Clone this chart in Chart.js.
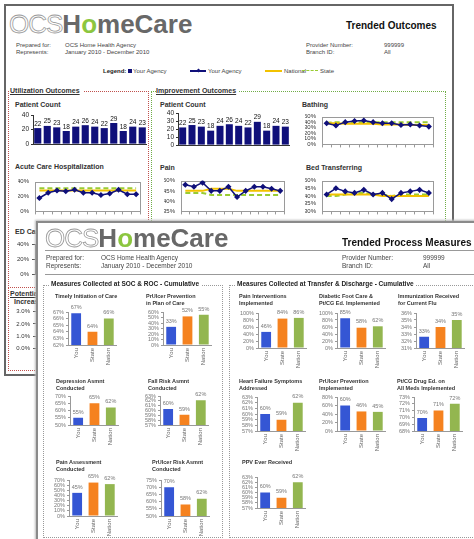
<!DOCTYPE html>
<html lang="en">
<head>
<meta charset="UTF-8">
<title>OCS HomeCare - Trended Outcomes</title>
<script src="https://cdn.jsdelivr.net/npm/chart.js"></script>
<style>
  body { margin: 0; width: 474px; height: 539px; overflow: hidden; position: relative; background: #fff;
         font-family: "Liberation Sans", Arial, sans-serif; color: #333; }
  .t { position: absolute; white-space: nowrap; line-height: 1; }
  .back { z-index: 2; }
  .front { z-index: 12; }
  .b { font-weight: bold; }
  .u { text-decoration: underline; background: #fff; padding-right: 3px; }
  .small { font-size: 6px; color: #444; }
  .logo { font-size: 26px; }
  .ocs { color: #fff; -webkit-text-stroke: 0.8px #9a9a9a; letter-spacing: -1px; }
  .hc { font-weight: bold; color: #686868; }
  .green { color: #8cc63f; }
  .box { position: absolute; }
  .ctitle { font-size: 5.5px; font-weight: bold; line-height: 7px; color: #333; }
  .sect { font-size: 6.5px; font-weight: bold; background: #fff; padding: 0 2px; color: #222; }
</style>
</head>
<body>

<!-- back page: Trended Outcomes -->
<div class="box back" style="left:4px;top:4px;width:446px;height:368px;border:2px solid #666;"></div>
<div class="t back logo" style="left:9px;top:11px"><span class="ocs">OCS</span><span class="hc">H<span class="green">o</span>meCare</span></div>
<div class="t back b" style="left:346px;top:20.5px;font-size:10px;color:#111">Trended Outcomes</div>
<div class="t back small" style="left:16px;top:41.7px">Prepared for:</div>
<div class="t back small" style="left:65px;top:41.7px">OCS Home Health Agency</div>
<div class="t back small" style="left:16px;top:48.7px">Represents:</div>
<div class="t back small" style="left:65px;top:48.7px">January 2010 - December 2010</div>
<div class="t back small" style="left:306px;top:41.7px">Provider Number:</div>
<div class="t back small" style="left:384px;top:41.7px">999999</div>
<div class="t back small" style="left:306px;top:48.7px">Branch ID:</div>
<div class="t back small" style="left:384px;top:48.7px">All</div>

<div class="t back small b" style="left:103px;top:67.7px;color:#222">Legend:</div>
<div class="box back" style="left:128px;top:69px;width:4px;height:4px;background:#10107a"></div>
<div class="t back small" style="left:133px;top:67.7px">Your Agency</div>
<div class="box back" style="left:190px;top:70.3px;width:16px;height:1.5px;background:#10107a"></div>
<div class="box back" style="left:196.5px;top:69.2px;width:3px;height:3px;background:#10107a;transform:rotate(45deg)"></div>
<div class="t back small" style="left:208px;top:67.7px">Your Agency</div>
<div class="box back" style="left:265px;top:70.3px;width:17px;height:1.5px;background:#f2c200"></div>
<div class="t back small" style="left:284px;top:67.7px">National</div>
<div class="box back" style="left:302px;top:70.3px;width:16px;border-top:1.5px dashed #99cc33"></div>
<div class="t back small" style="left:320px;top:67.7px">State</div>

<div class="box back" style="left:8px;top:91px;width:139px;height:195px;border:1px dotted #c0504d"></div>
<div class="box back" style="left:8px;top:287px;width:139px;height:82px;border:1px dotted #c0504d"></div>
<div class="box back" style="left:151px;top:91px;width:293px;height:140px;border:1px dotted #70ad47"></div>
<div class="t back b u" style="left:10px;top:87px;font-size:7px">Utilization Outcomes</div>
<div class="t back b u" style="left:10px;top:290px;font-size:7px">Potentially Avoidable Events</div>
<div class="t back b u" style="left:156px;top:87px;font-size:7px">Improvement Outcomes</div>
<div class="t back b" style="left:15px;top:101px;font-size:7px">Patient Count</div>
<div class="t back b" style="left:15px;top:163px;font-size:7px">Acute Care Hospitalization</div>
<div class="t back b" style="left:15px;top:228px;font-size:7px">ED Care Use without Hospitalization</div>
<div class="t back b" style="left:14px;top:298px;font-size:7px">Increase in Number of Pressure Ulcers</div>
<div class="t back b" style="left:160px;top:101px;font-size:7px">Patient Count</div>
<div class="t back b" style="left:302px;top:101px;font-size:7px">Bathing</div>
<div class="t back b" style="left:160px;top:164px;font-size:7px">Pain</div>
<div class="t back b" style="left:306px;top:164px;font-size:7px">Bed Transferring</div>

<!-- front page: Trended Process Measures -->
<div class="box" style="z-index:10;left:36px;top:221px;width:450px;height:330px;background:#fff;border-left:2px solid #8a8a8a;border-top:2px solid #8a8a8a;box-shadow:-1px -1px 2px #bbb"></div>
<div class="t front logo" style="left:45px;top:224.8px"><span class="ocs">OCS</span><span class="hc">H<span class="green">o</span>meCare</span></div>
<div class="t front b" style="left:342px;top:237.5px;font-size:10px;color:#111">Trended Process Measures</div>
<div class="box front" style="left:45px;top:250px;width:440px;height:1px;background:#999"></div>
<div class="box front" style="left:45px;top:274px;width:440px;height:1px;background:#999"></div>
<div class="t front small" style="left:46px;top:255.4px;font-size:6.5px">Prepared for:</div>
<div class="t front small" style="left:101px;top:255.4px;font-size:6.5px">OCS Home Health Agency</div>
<div class="t front small" style="left:46px;top:263.4px;font-size:6.5px">Represents:</div>
<div class="t front small" style="left:101px;top:263.4px;font-size:6.5px">January 2010 - December 2010</div>
<div class="t front small" style="left:342px;top:255.4px;font-size:6.5px">Provider Number:</div>
<div class="t front small" style="left:423px;top:255.4px;font-size:6.5px">999999</div>
<div class="t front small" style="left:342px;top:263.4px;font-size:6.5px">Branch ID:</div>
<div class="t front small" style="left:423px;top:263.4px;font-size:6.5px">All</div>

<div class="box front" style="left:43px;top:285px;width:178px;height:251px;border:1px dotted #999"></div>
<div class="box front" style="left:229px;top:285px;width:260px;height:251px;border:1px dotted #999"></div>
<div class="t front sect" style="left:49px;top:281px">Measures Collected at SOC &amp; ROC - Cumulative</div>
<div class="t front sect" style="left:235px;top:281px">Measures Collected at Transfer &amp; Discharge - Cumulative</div>

<div class="t front ctitle" style="left:55px;top:292.5px">Timely Initiation of Care</div>
<div class="t front ctitle" style="left:146px;top:292.5px">PrUlcer Prevention<br>in Plan of Care</div>
<div class="t front ctitle" style="left:56px;top:377.5px">Depression Asmnt<br>Conducted</div>
<div class="t front ctitle" style="left:148px;top:377.5px">Fall Risk Asmnt<br>Conducted</div>
<div class="t front ctitle" style="left:56px;top:458.5px">Pain Assessment<br>Conducted</div>
<div class="t front ctitle" style="left:152px;top:458.5px">PrUlcer Risk Asmnt<br>Conducted</div>
<div class="t front ctitle" style="left:239px;top:293px">Pain Interventions<br>Implemented</div>
<div class="t front ctitle" style="left:319px;top:293px">Diabetic Foot Care &amp;<br>Pt/CG Ed. Implemented</div>
<div class="t front ctitle" style="left:398px;top:293px">Immunization Received<br>for Current Flu</div>
<div class="t front ctitle" style="left:239px;top:377.5px">Heart Failure Symptoms<br>Addressed</div>
<div class="t front ctitle" style="left:319px;top:377.5px">PrUlcer Prevention<br>Implemented</div>
<div class="t front ctitle" style="left:397px;top:377.5px">Pt/CG Drug Ed. on<br>All Meds Implemented</div>
<div class="t front ctitle" style="left:242px;top:458.5px">PPV Ever Received</div>

<script>
// ---- Trended Outcomes, Jan - Dec 2010 ----
const months = ['Jan', 'Feb', 'Mar', 'Apr', 'May', 'Jun', 'Jul', 'Aug', 'Sep', 'Oct', 'Nov', 'Dec'];
const patientCount = [22, 25, 23, 18, 24, 26, 24, 22, 29, 18, 24, 23];

const acuteAgency   = [18, 25, 28, 27, 29, 25, 25, 22, 24, 29, 23, 23];
const acuteNational = [28, 28, 28, 28, 28, 28, 28, 28, 28, 28, 28, 28];
const acuteState    = [31, 31, 31, 31, 31, 31, 31, 31, 31, 31, 31, 31];

const bathingAgency   = [38, 34, 40, 42, 43, 40, 38, 38, 35, 36, 34, 32];
const bathingNational = [38, 38, 37, 37, 37, 37, 36, 36, 36, 35, 35, 35];
const bathingState    = [39, 40, 40, 40, 40, 40, 40, 40, 40, 40, 40, 40];

const painAgency   = [48, 47, 49, 45, 45, 47, 42, 45, 47, 47, 46, 45];
const painNational = [45, 45, 45, 46, 46, 46, 45, 45, 45, 45, 45, 45];
const painState    = [44, 44, 44, 43, 43, 43, 43, 43, 43, 43, 43, 43];

const bedAgency   = [41, 45, 43, 42, 44, 41, 42, 38, 42, 43, 44, 42];
const bedNational = [41, 41, 41, 41, 41, 41, 40, 40, 40, 40, 40, 40];
const bedState    = [40, 40, 41, 42, 42, 41, 41, 40, 41, 41, 41, 41];

// only the first month of these two is visible, the rest sits under the other sheet
const edCareAgency = [20];
const ulcerAgency = [2.0];
const ulcerNational = [2.1];

// axis ranges: [min, max, step]
const utilCountAxis = [0, 40, 20];
const imprCountAxis = [0, 40, 10];
const acuteAxis = [0, 40, 20];
const edCareAxis = [0, 40, 20];
const ulcerAxis = [0, 3, 1];
const bathingAxis = [0, 50, 10];
const painAxis = [35, 50, 5];
const bedAxis = [30, 50, 5];

// ---- Trended Process Measures ----
const groups = ['You', 'State', 'Nation'];
const timelyCare        = [66.8, 64.0, 66.0];
const ulcerPlanOfCare   = [33, 52, 55];
const depressionAsmnt   = [55, 65, 62];
const fallRiskAsmnt     = [60.3, 59.1, 62.1];
const painAsmnt         = [45, 65, 62];
const ulcerRiskAsmnt    = [70, 58, 62];
const painInterventions = [46, 84, 86];
const diabeticFootCare  = [85, 58, 62];
const fluImmunization   = [32.6, 34, 35];
const heartFailure      = [60, 59, 62];
const ulcerPrevention   = [60, 46, 45];
const drugEducation     = [69.9, 71, 72];
const ppvReceived       = [60, 59, 62];

const timelyAxis = [62, 67, 1];
const ulcerPlanAxis = [0, 60, 10];
const depressionAxis = [50, 70, 5];
const fallRiskAxis = [57, 63, 1];
const painAsmntAxis = [0, 70, 10];
const ulcerRiskAxis = [50, 75, 5];
const painIntAxis = [0, 100, 20];
const diabeticAxis = [0, 100, 20];
const fluAxis = [31, 36, 1];
const heartAxis = [57, 63, 1];
const ulcerPrevAxis = [0, 80, 20];
const drugEdAxis = [68, 73, 1];
const ppvAxis = [57, 63, 1];

const groupColors = ['#3556d4', '#f5821f', '#93b650'];
const navy = '#10107a';

Chart.defaults.font.family = '"Liberation Sans", Arial, sans-serif';
Chart.defaults.animation = false;
Chart.defaults.plugins.legend.display = false;
Chart.defaults.plugins.tooltip.enabled = false;

// numbers above the bars
const valueLabels = {
  id: 'valueLabels',
  afterDatasetsDraw(chart, args, opts) {
    const ctx = chart.ctx;
    const values = chart.data.datasets[0].data;
    ctx.save();
    ctx.font = opts.size + 'px "Liberation Sans", Arial, sans-serif';
    ctx.fillStyle = opts.color;
    ctx.textAlign = 'center';
    ctx.textBaseline = 'bottom';
    chart.getDatasetMeta(0).data.forEach((bar, i) => {
      ctx.fillText(Math.round(values[i]) + opts.suffix, bar.x, bar.y - opts.gap);
    });
    ctx.restore();
  }
};

// grey frame round the plot area (Excel style)
const plotBox = {
  id: 'plotBox',
  beforeDatasetsDraw(chart) {
    const { ctx, chartArea: a } = chart;
    ctx.save();
    ctx.strokeStyle = '#9a9a9a';
    ctx.lineWidth = 1;
    ctx.strokeRect(Math.round(a.left) + 0.5, Math.round(a.top) + 0.5, Math.round(a.width) - 1, Math.round(a.height) - 1);
    ctx.restore();
  }
};

function addCanvas(left, top, width, height, z) {
  const c = document.createElement('canvas');
  c.width = width;
  c.height = height;
  c.style.cssText = `position:absolute;left:${left}px;top:${top}px;width:${width}px;height:${height}px;z-index:${z}`;
  document.body.appendChild(c);
  return c;
}

// navy monthly bars (patient count)
function countBars(ax, right, top, bottom, axis) {
  const yw = 14, pad = 9, xh = 5;
  const canvas = addCanvas(ax - yw, top - pad, right - ax + yw, pad + bottom - top + xh, 3);
  new Chart(canvas, {
    type: 'bar',
    data: { labels: months, datasets: [{ data: patientCount, backgroundColor: navy, barPercentage: 0.75, categoryPercentage: 1 }] },
    options: {
      responsive: false,
      devicePixelRatio: 1,
      layout: { padding: { top: pad } },
      plugins: { valueLabels: { size: 6.5, color: '#111', suffix: '', gap: 1 } },
      scales: {
        x: { grid: { display: false, drawTicks: false }, ticks: { display: false }, border: { color: '#333' },
             afterFit: s => { s.height = xh; } },
        y: { min: axis[0], max: axis[1], ticks: { stepSize: axis[2], autoSkip: false, font: { size: 6.5 }, color: '#222', padding: 2 },
             grid: { drawOnChartArea: false, tickLength: 2, color: '#333' }, border: { color: '#333' },
             afterFit: s => { s.width = yw; } }
      }
    },
    plugins: [valueLabels]
  });
}

// agency vs national vs state trend lines
function trendLines(left, right, top, bottom, axis, agency, national, state, boxed) {
  const yw = boxed ? 17 : 32, pad = 4, xh = 4;
  const canvas = addCanvas(left - yw, top - pad, right - left + yw, pad + bottom - top + xh, 3);
  const datasets = [
    { data: agency, borderColor: navy, backgroundColor: navy, borderWidth: 1.5, pointStyle: 'rectRot', pointRadius: 2, order: 0 }
  ];
  if (national) datasets.push({ data: national, borderColor: '#f2c200', backgroundColor: '#f2c200', borderWidth: 2, pointRadius: boxed ? 0 : 1.5, order: 1 });
  if (state) datasets.push({ data: state, borderColor: '#99cc33', borderWidth: 2, borderDash: [5, 3], pointRadius: 0, order: 2 });
  new Chart(canvas, {
    type: 'line',
    data: { labels: months, datasets },
    options: {
      responsive: false,
      devicePixelRatio: 1,
      layout: { padding: { top: pad } },
      scales: {
        x: { offset: true, grid: { display: boxed, drawOnChartArea: false, offset: true, tickLength: 3, color: '#999' },
             ticks: { display: false }, border: { display: false }, afterFit: s => { s.height = xh; } },
        y: { min: axis[0], max: axis[1],
             ticks: { stepSize: axis[2], autoSkip: false, font: { size: 6 }, color: '#333', padding: 3,
                      callback: v => (axis[2] < 5 ? v.toFixed(1) : v) + '%' },
             grid: { display: !boxed, drawOnChartArea: false, tickLength: 3, color: '#555' },
             border: { display: !boxed, color: '#555' }, afterFit: s => { s.width = yw; } }
      }
    },
    plugins: boxed ? [plotBox] : []
  });
}

// You / State / Nation bars
function groupBars(ax, top, bottom, values, axis) {
  const yw = 20, pad = 9, xh = 24, pw = 51;
  const canvas = addCanvas(ax - yw, top - pad, yw + pw, pad + bottom - top + xh, 13);
  new Chart(canvas, {
    type: 'bar',
    data: { labels: groups, datasets: [{ data: values, backgroundColor: groupColors, barPercentage: 0.6, categoryPercentage: 1 }] },
    options: {
      responsive: false,
      devicePixelRatio: 1,
      layout: { padding: { top: pad } },
      plugins: { valueLabels: { size: 5.5, color: '#777', suffix: '%', gap: 3 } },
      scales: {
        x: { grid: { display: false, drawTicks: false }, border: { color: '#999' },
             ticks: { minRotation: 90, maxRotation: 90, font: { size: 6 }, color: '#666', padding: 3 },
             afterFit: s => { s.height = xh; } },
        y: { min: axis[0], max: axis[1],
             ticks: { stepSize: axis[2], autoSkip: false, font: { size: 5.5 }, color: '#777', padding: 2, callback: v => v + '%' },
             grid: { drawOnChartArea: false, tickLength: 2, color: '#999' }, border: { color: '#999' },
             afterFit: s => { s.width = yw; } }
      }
    },
    plugins: [valueLabels]
  });
}

// back sheet
countBars(33, 147, 115, 145, utilCountAxis);
countBars(178, 290, 113, 146, imprCountAxis);
trendLines(35, 146, 179, 214, acuteAxis, acuteAgency, acuteNational, acuteState, true);
trendLines(322, 439, 114, 147, bathingAxis, bathingAgency, bathingNational, bathingState, true);
trendLines(181, 290, 178, 214, painAxis, painAgency, painNational, painState, true);
trendLines(322, 439, 178, 214, bedAxis, bedAgency, bedNational, bedState, true);
trendLines(35, 146, 242, 277, edCareAxis, edCareAgency, null, null, false);
trendLines(36, 146, 309, 351, ulcerAxis, ulcerAgency, ulcerNational, null, false);

// front sheet
groupBars(68, 312, 345, timelyCare, timelyAxis);
groupBars(163, 312, 345, ulcerPlanOfCare, ulcerPlanAxis);
groupBars(70, 396, 425, depressionAsmnt, depressionAxis);
groupBars(160, 396, 425, fallRiskAsmnt, fallRiskAxis);
groupBars(69, 480, 516, painAsmnt, painAsmntAxis);
groupBars(161, 480, 516, ulcerRiskAsmnt, ulcerRiskAxis);
groupBars(258, 313, 348, painInterventions, painIntAxis);
groupBars(337, 313, 348, diabeticFootCare, diabeticAxis);
groupBars(416, 313, 348, fluImmunization, fluAxis);
groupBars(257, 397, 431, heartFailure, heartAxis);
groupBars(337, 397, 431, ulcerPrevention, ulcerPrevAxis);
groupBars(414, 397, 431, drugEducation, drugEdAxis);
groupBars(257, 477, 508, ppvReceived, ppvAxis);
</script>
</body>
</html>
